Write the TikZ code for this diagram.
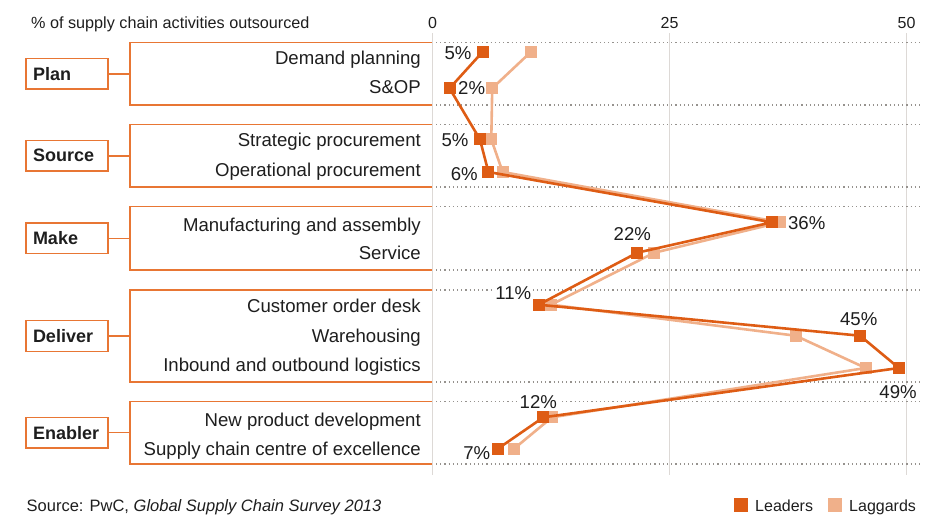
\documentclass[tikz,border=0pt]{standalone}
\usepackage{fontspec}
\setmainfont{Liberation Sans}
\usetikzlibrary{positioning}
\definecolor{leader}{RGB}{222,92,20}
\definecolor{laggard}{RGB}{240,176,138}
\definecolor{boxorange}{RGB}{232,118,52}
\definecolor{gridgray}{RGB}{221,217,214}
\definecolor{dotgray}{RGB}{150,146,142}
\definecolor{ink}{RGB}{30,30,30}

\begin{document}
\begin{tikzpicture}[x=1pt,y=-1pt,text=ink,
    group/.style={draw=boxorange, line width=1.5pt, text width=68pt, inner xsep=7pt, minimum height=30.6pt, align=left, font=\fontsize{18}{20}\selectfont\bfseries},
    item/.style={anchor=base east, inner sep=0pt, font=\fontsize{18.6}{20}\selectfont},
    pct/.style={fill=white, inner xsep=2pt, inner ysep=0pt, font=\fontsize{18.6}{20}\selectfont},
    sq/.style={fill=#1, minimum size=12pt, inner sep=0pt},
    small/.style={inner sep=0pt, font=\fontsize{16}{18}\selectfont}]
        \useasboundingbox (0,0) rectangle (937,515);
        \foreach \v in {0,25,50} {
            \draw[gridgray, line width=1.5pt] ({432.5+9.48*\v},33) -- ({432.5+9.48*\v},475);
            \node[small] (ax\v) at ({432.5+9.48*\v},22.8) {\v};
        }
        \node[small, anchor=base west, font=\fontsize{16.2}{18}\selectfont] (title) at (31,28.3) {\% of supply chain activities outsourced};
        \foreach \name/\lab/\t/\b in {plan/Plan/42.5/105, source/Source/124.5/187, make/Make/206.7/270, deliver/Deliver/290/382, enabler/Enabler/401.3/464} {
            \draw[dotgray, line width=1.2pt, dash pattern=on 1.2pt off 3pt] (436,\t) -- (920,\t) (436,\b) -- (920,\b);
            \draw[boxorange, line width=1.5pt] (432,\t) -| (130,\b) -- (432,\b);
            \coordinate (\name-br) at (130,{(\t+\b)/2});
            \node[group] (\name) at (67,{(\t+\b)/2}) {\lab};
            \draw[boxorange, line width=1.5pt] (\name.east) -- (\name-br);
        }
        \foreach \txt/\y [count=\i] in {Demand planning/64.3, S\&OP/93.3, Strategic procurement/146.7, Operational procurement/176.7, Manufacturing and assembly/231, Service/259.3, Customer order desk/312.7, Warehousing/342.7, Inbound and outbound logistics/371.7, New product development/426, Supply chain centre of excellence/455}
            \node[item] (item\i) at (421,\y) {\txt};
        \foreach \v/\w/\y [count=\i] in {5.3/10.4/51.7, 1.8/6.3/88.3, 5.0/6.2/139.3, 5.9/7.4/172, 35.8/36.7/222.3, 21.6/23.4/252.7, 11.2/12.5/304.7, 45.1/38.3/335.7, 49.2/45.7/368, 11.7/12.6/417.3, 6.9/8.6/448.7} {
            \coordinate (L\i) at ({432.5+9.48*\v},\y);
            \coordinate (G\i) at ({432.5+9.48*\w},\y);
        }
        \foreach \i/\t/\dx/\dy in {1/5/-24.7/1, 2/2/22.1/-0.3, 3/5/-24.9/0.7, 4/6/-24.1/2, 5/36/34.8/0.4, 6/22/-5/-18.4, 7/11/-25.4/-12, 8/45/-1.3/-16.4, 9/49/-0.9/24, 10/12/-5.1/-15.3, 11/7/-21.2/4.6}
            \node[pct] (p\i) at ([shift={(\dx,\dy)}]L\i) {\t\%};
        \draw[laggard, line width=2.6pt, line join=round] (G1) \foreach \i in {2,...,11} {-- (G\i)};
        \foreach \i in {1,...,11} \node[sq=laggard] (g\i) at (G\i) {};
        \draw[leader, line width=2.6pt, line join=round] (L1) \foreach \i in {2,...,11} {-- (L\i)};
        \foreach \i in {1,...,11} \node[sq=leader] (l\i) at (L\i) {};
        \node[sq=leader, minimum size=14pt] (keyL) at (741,505) {};
        \node[small, anchor=base west] (keyLtxt) at (755,511) {Leaders};
        \node[sq=laggard, minimum size=14pt] (keyG) at (834.7,505) {};
        \node[small, anchor=base west] (keyGtxt) at (849,511) {Laggards};
        \node[small, anchor=base west, font=\fontsize{16.5}{18}\selectfont] (source) at (26.5,511) {Source: PwC, \textit{Global Supply Chain Survey 2013}};
    \end{tikzpicture}
\end{document}
